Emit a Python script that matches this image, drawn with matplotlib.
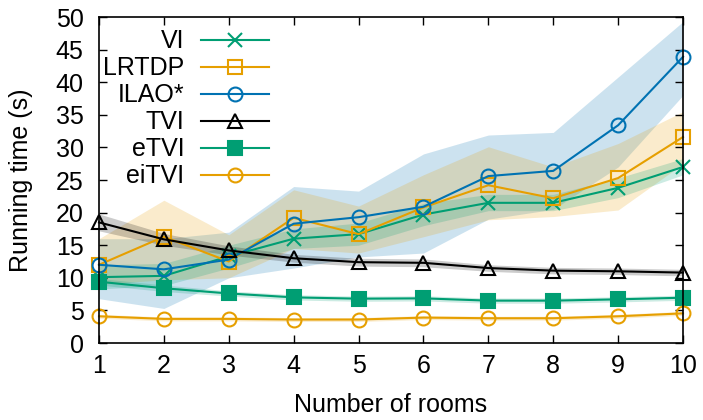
import numpy as np
import matplotlib
matplotlib.use("Agg")
import matplotlib.pyplot as plt

plt.rcParams['font.family'] = ['Liberation Sans', 'DejaVu Sans']

# число комнат
rooms = [1, 2, 3, 4, 5, 6, 7, 8, 9, 10]

# средние значения времени (с) и границы полос
vi_mean = [10.1, 10.3, 13.3, 16.0, 16.7, 19.7, 21.5, 21.5, 23.8, 27.0]
vi_low = [8.3, 8.8, 11.5, 14.5, 15.0, 18.0, 20.3, 20.3, 22.3, 25.8]
vi_high = [12.0, 12.2, 15.0, 17.5, 18.4, 21.4, 22.8, 22.8, 25.3, 28.3]

lrtdp_mean = [12.0, 16.3, 12.5, 19.2, 16.7, 20.8, 24.2, 22.2, 25.3, 31.6]
lrtdp_low = [9.0, 9.7, 10.0, 14.5, 13.8, 16.3, 18.9, 19.4, 20.4, 27.5]
lrtdp_high = [16.0, 21.9, 16.6, 23.5, 21.0, 25.8, 30.1, 27.0, 30.6, 35.5]

ilao_mean = [12.0, 11.3, 12.8, 18.3, 19.3, 20.9, 25.6, 26.4, 33.4, 43.9]
ilao_low = [6.8, 5.3, 10.0, 11.5, 13.2, 13.8, 19.0, 20.5, 27.0, 38.0]
ilao_high = [16.0, 16.0, 17.0, 24.0, 23.3, 29.0, 31.9, 32.3, 40.8, 49.3]

tvi_mean = [18.5, 15.9, 14.2, 13.0, 12.4, 12.3, 11.5, 11.1, 11.0, 10.8]
tvi_err = [1.3, 0.9, 0.7, 0.6, 0.6, 0.6, 0.5, 0.5, 0.5, 0.5]

etvi_mean = [9.4, 8.4, 7.6, 7.0, 6.8, 6.85, 6.5, 6.5, 6.7, 6.95]
etvi_err = [0.5, 0.5, 0.4, 0.4, 0.4, 0.4, 0.4, 0.4, 0.4, 0.4]

eitvi_mean = [4.1, 3.7, 3.7, 3.6, 3.6, 3.9, 3.8, 3.8, 4.1, 4.55]
eitvi_err = [0.3, 0.3, 0.3, 0.3, 0.3, 0.3, 0.3, 0.3, 0.3, 0.3]

green = '#009e73'
orange = '#e69f00'
blue = '#0072b2'
fs = 18

fig = plt.figure(figsize=(7.03, 4.2), dpi=100)
ax = fig.add_axes([0.1408, 0.1833, 0.8308, 0.7762])

x = np.array(rooms)

# полосы разброса
ax.fill_between(x, ilao_low, ilao_high, color=blue, alpha=0.2, lw=0)
ax.fill_between(x, lrtdp_low, lrtdp_high, color=orange, alpha=0.2, lw=0)
ax.fill_between(x, vi_low, vi_high, color=green, alpha=0.2, lw=0)
ax.fill_between(x, np.array(tvi_mean) - tvi_err, np.array(tvi_mean) + tvi_err,
                color='black', alpha=0.2, lw=0)
ax.fill_between(x, np.array(etvi_mean) - etvi_err, np.array(etvi_mean) + etvi_err,
                color=green, alpha=0.2, lw=0)
ax.fill_between(x, np.array(eitvi_mean) - eitvi_err, np.array(eitvi_mean) + eitvi_err,
                color=orange, alpha=0.2, lw=0)

# линии
kw = dict(lw=1.5, ms=10, mew=1.5, clip_on=False)
ax.plot(x, vi_mean, color=green, marker='x', label='VI', **kw)
ax.plot(x, lrtdp_mean, color=orange, marker='s', mfc='none', label='LRTDP', **kw)
ax.plot(x, ilao_mean, color=blue, marker='o', mfc='none', label='ILAO*', **kw)
ax.plot(x, tvi_mean, color='black', marker='^', mfc='none', label='TVI', **kw)
ax.plot(x, etvi_mean, color=green, marker='s', label='eTVI', **kw)
ax.plot(x, eitvi_mean, color=orange, marker='o', mfc='none', label='eiTVI', **kw)

ax.set_xlim(1, 10)
ax.set_ylim(0, 50)
ax.set_xticks(rooms)
ax.set_yticks(np.arange(0, 51, 5))
ax.tick_params(direction='in', length=6, width=1, top=True, right=True, labelsize=fs)
ax.tick_params(axis='y', pad=11)
ax.tick_params(axis='x', pad=8)
for s in ax.spines.values():
    s.set_linewidth(1.2)

ax.set_xlabel('Number of rooms', fontsize=fs, labelpad=11)
ax.set_ylabel('Running time (s)', fontsize=fs, labelpad=16)

leg = ax.legend(loc='upper left', bbox_to_anchor=(0.0068, 0.962), frameon=False,
                fontsize=fs, markerfirst=False, handlelength=2.7,
                handletextpad=0.68, labelspacing=0.12, borderaxespad=0,
                borderpad=0, numpoints=1)
for col in leg._legend_handle_box.get_children():
    col.align = 'right'

fig.savefig('out.png', dpi=100)
